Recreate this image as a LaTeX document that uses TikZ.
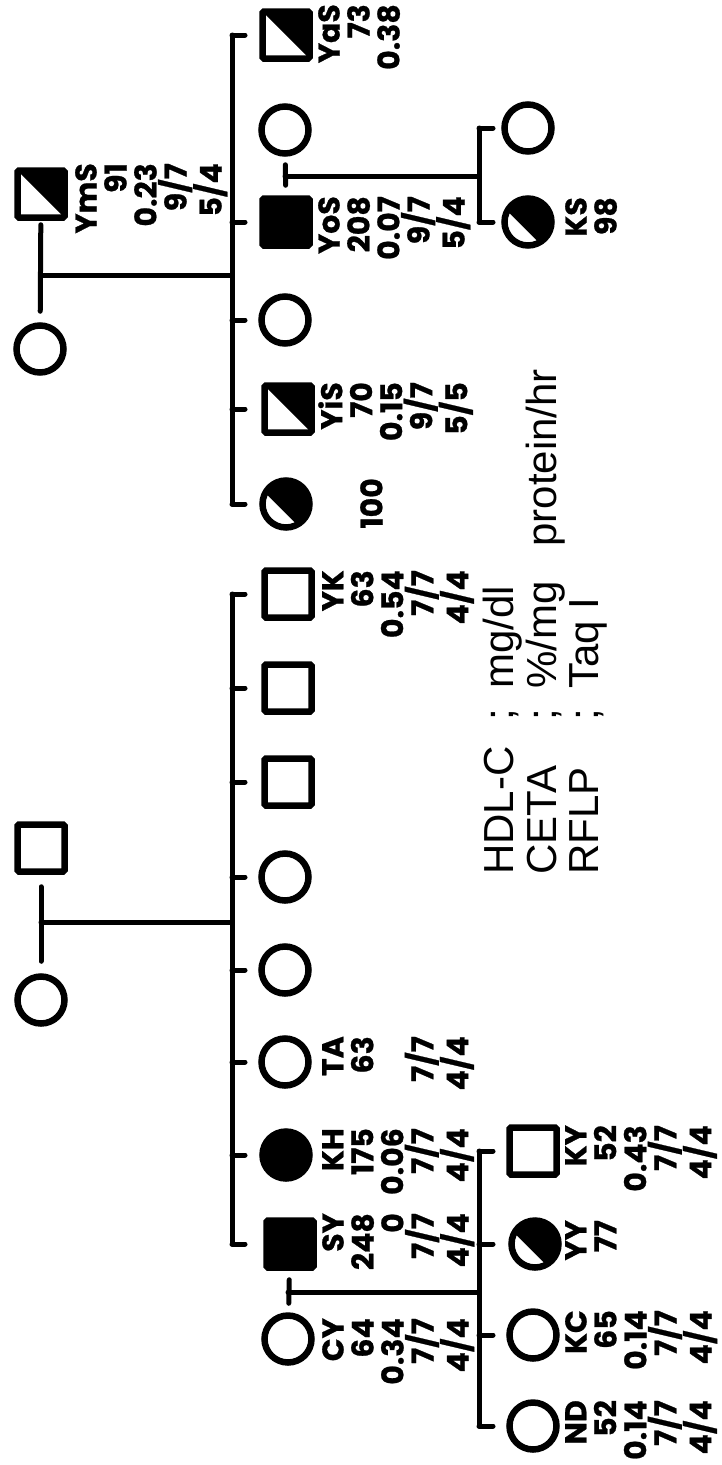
\documentclass[tikz,border=0pt]{standalone}
\usepackage{fontspec}
\setmainfont{Liberation Sans}
\newfontfamily\labf{Poppins}[BoldFeatures={FakeBold=0.8}]
\usetikzlibrary{calc}
\tikzset{
 ped/.style={line width=5pt, line cap=round},
 sym/.style={draw, line width=6.5pt, inner sep=0pt, minimum size=47pt},
 fem/.style={sym, circle},
 mal/.style={sym, rectangle, rounded corners=1.5pt},
 aff/.style={fill=black},
 halfsq/.style={mal, path picture={\fill (path picture bounding box.north west) -- (path picture bounding box.north east) -- (path picture bounding box.south east) -- cycle;}},
 halfc/.style={fem, fill=black, path picture={\begin{scope}[shift={(path picture bounding box.center)}]\fill[white] (16.3,26.2) -- (-4.9,47.4) -- (-47.4,4.95) -- (-26.2,-16.3) -- cycle;\end{scope}}},
 lab/.style={rotate=90, anchor=north east, align=right, inner sep=0pt, font=\labf\bfseries\fontsize{30}{30}\selectfont},
 leg/.style={rotate=90, anchor=north west, inner sep=0pt, font=\fontsize{42}{42}\selectfont},
}
\begin{document}
\begin{tikzpicture}[x=1pt,y=-1pt]
\useasboundingbox (0,0) rectangle (721,1465);
% ---------- left family ----------
\node[mal] (lF) at (41,848) {};
\node[fem] (lM) at (41,1000) {};
\coordinate (lMar) at (41,922);
\coordinate (lSib) at (232,922);
\draw[ped,shorten <=12pt,shorten >=12pt] (lF) -- (lM);
\draw[ped] (lMar) -- (lSib);
\node[mal] (YK) at (288,594) {};
\node[mal] (m2) at (288,688) {};
\node[mal] (m3) at (288,782) {};
\node[fem] (f1) at (285,877) {};
\node[fem] (f2) at (285,970) {};
\node[fem] (TA) at (285,1062) {};
\node[fem,aff] (KH) at (286,1155) {};
\node[mal,aff] (SY) at (290,1244) {};
\node[fem] (CY) at (288,1339) {};
\draw[ped] (lSib |- YK) -- (lSib |- SY);
\foreach \c in {YK,m2,m3,f1,f2,TA,KH,SY} \draw[ped] (lSib |- \c) -- ++(13,0);
% gen III left
\coordinate (sMar) at (288,1292);
\coordinate (sSib) at (479,1292);
\draw[ped,shorten <=9pt,shorten >=9pt] (SY) -- (CY);
\draw[ped] (sMar) -- (sSib);
\node[mal] (KY) at (533,1151) {};
\node[halfc] (YY) at (535,1244) {};
\node[fem] (KC) at (533,1335) {};
\node[fem] (ND) at (533,1426) {};
\draw[ped] (sSib |- KY) -- (sSib |- ND);
\foreach \c in {KY,YY,KC,ND} \draw[ped] (sSib |- \c) -- ++(14,0);
% labels left
\node[lab] (tYK) at (322,570) {YK\\63\\0.54\\7/7\\4/4};
\node[lab] (tTA) at (322,1036) {TA\\63\\\phantom{0}\\7/7\\4/4};
\node[lab] (tKH) at (322,1128) {KH\\175\\0.06\\7/7\\4/4};
\node[lab] (tSY) at (322,1213) {SY\\248\\0\\7/7\\4/4};
\node[lab] (tCY) at (322,1318) {CY\\64\\0.34\\7/7\\4/4};
\node[lab] (tKY) at (565,1125) {KY\\52\\0.43\\7/7\\4/4};
\node[lab] (tYY) at (565,1220) {YY\\77};
\node[lab] (tKC) at (565,1310) {KC\\65\\0.14\\7/7\\4/4};
\node[lab] (tND) at (565,1400) {ND\\52\\0.14\\7/7\\4/4};
% ---------- Y family ----------
\node[halfsq] (YmS) at (41,194) {};
\node[fem] (yM) at (40,349) {};
\coordinate (yMar) at (41,275);
\coordinate (ySib) at (232,275);
\draw[ped,shorten <=4pt,shorten >=11pt] (YmS) -- (yM);
\draw[ped] (yMar) -- (ySib);
\node[halfsq] (YaS) at (286,35) {};
\node[fem] (yS) at (285,130) {};
\node[mal,aff] (YoS) at (286,222) {};
\node[fem] (yf1) at (285,320) {};
\node[halfsq] (YiS) at (288,409) {};
\node[halfc] (yC) at (286,504) {};
\draw[ped] (ySib |- YaS) -- (ySib |- yC);
\foreach \c in {YaS,YoS,yf1,YiS,yC} \draw[ped] (ySib |- \c) -- ++(13,0);
\coordinate (oMar) at (285,176);
\coordinate (oSib) at (479,176);
\draw[ped,shorten <=10pt,shorten >=8pt] (YoS) -- (yS);
\draw[ped] (oMar) -- (oSib);
\node[fem] (yK1) at (528,128) {};
\node[halfc] (KS) at (528,222) {};
\draw[ped] (oSib |- yK1) -- (oSib |- KS);
\foreach \c in {yK1,KS} \draw[ped] (oSib |- \c) -- ++(14,0);
% labels Y
\node[lab] (tYmS) at (75,163) {YmS\\91\\0.23\\9/7\\5/4};
\node[lab] (tYaS) at (318,4) {YaS\\73\\0.38};
\node[lab] (tYoS) at (318,196) {YoS\\208\\0.07\\9/7\\5/4};
\node[lab] (tYiS) at (318,382) {YiS\\70\\0.15\\9/7\\5/5};
\node[lab] (t100) at (330,478) {\phantom{0}\\100};
\node[lab] (tKS) at (565,197) {KS\\98};
% legend
\node[leg] (legend) at (483,875) {\begin{tabular}{@{}l@{\hspace{26pt}}l@{\hspace{20pt}}l@{}}HDL-C & ; & mg/dl\\ CETA & ; & \%/mg\hspace{35pt}protein/hr\\ RFLP & ; & Taq I\end{tabular}};
\end{tikzpicture}
\end{document}
